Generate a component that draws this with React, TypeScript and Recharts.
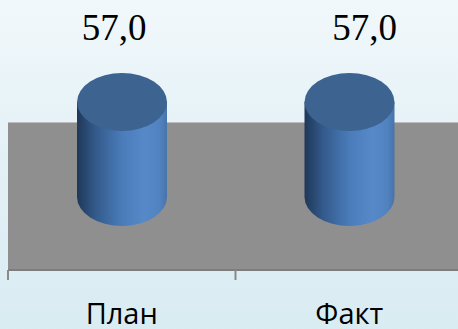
import React from 'react'
import { ComposedChart, XAxis, YAxis, Bar, LabelList, ReferenceArea } from 'recharts'

const categories = ['План', 'Факт']
const values = [57.0, 57.0]
const yDomain: [number, number] = [-43.8, 57]
const wallTop = 45

const data = categories.map((name, i) => ({ name, value: values[i] }))

const W = 470
const H = 329
const M = { top: 102, right: 7, bottom: 0, left: 8 }
const halfBand = (W - M.left - M.right) / categories.length / 2

const Cylinder = (props: any) => {
  const { x, y, width, height } = props
  const rx = width / 2
  const ry = 29
  const cx = x + rx
  const yb = y + height
  return (
    <g>
      <path
        d={`M${x},${y} L${x},${yb} A${rx},${ry} 0 0 0 ${x + width},${yb} L${x + width},${y} Z`}
        fill="url(#cylBody)"
      />
      <ellipse cx={cx} cy={y} rx={rx} ry={ry} fill="#3d6390" />
    </g>
  )
}

const ValueLabel = (props: any) => {
  const { x, width, index, value } = props
  const shift = index === 0 ? -8 : 15
  return (
    <text x={x + width / 2 + shift} y={40} textAnchor="middle"
      fontFamily="'Liberation Serif', serif" fontSize={37} fill="#000">
      {Number(value).toFixed(1).replace('.', ',')}
    </text>
  )
}

const CatTick = (props: any) => {
  const { x, y, payload } = props
  return (
    <g>
      <line x1={x - halfBand} y1={y - 8} x2={x - halfBand} y2={y + 2} stroke="#8a8a8a" strokeWidth={2} />
      <text x={x} y={y + 46} textAnchor="middle" fontFamily="'Open Sans', sans-serif" fontSize={29} fill="#000">
        {payload.value}
      </text>
    </g>
  )
}

export default function App() {
  return (
    <div style={{
      position: 'absolute', left: 0, top: 0, width: 458, height: 329, overflow: 'hidden',
      background: 'linear-gradient(180deg, #f1f8fb 0%, #e4f1f6 45%, #d9ecf2 100%)'
    }}>
      <ComposedChart width={W} height={H} data={data} margin={M} barSize={90}>
        <defs>
          <linearGradient id="cylBody" x1="0" y1="0" x2="1" y2="0">
            <stop offset="0%" stopColor="#1f3858" />
            <stop offset="20%" stopColor="#33598a" />
            <stop offset="50%" stopColor="#4a7cba" />
            <stop offset="75%" stopColor="#5789c9" />
            <stop offset="92%" stopColor="#5182c0" />
            <stop offset="100%" stopColor="#4773aa" />
          </linearGradient>
        </defs>
        <YAxis hide domain={yDomain} allowDataOverflow={false} />
        <ReferenceArea y1={yDomain[0]} y2={wallTop} fill="#8f8f8f" fillOpacity={1} stroke="none" ifOverflow="visible" />
        <ReferenceArea y1={wallTop - 0.6} y2={wallTop} fill="#bdbdbd" fillOpacity={1} stroke="none" ifOverflow="visible" />
        <XAxis dataKey="name" height={59} tickLine={false} axisLine={{ stroke: '#7d7d7d', strokeWidth: 2 }}
          tick={<CatTick />} interval={0} />
        <Bar dataKey="value" shape={<Cylinder />} isAnimationActive={false}>
          <LabelList dataKey="value" content={<ValueLabel />} />
        </Bar>
      </ComposedChart>
    </div>
  )
}
